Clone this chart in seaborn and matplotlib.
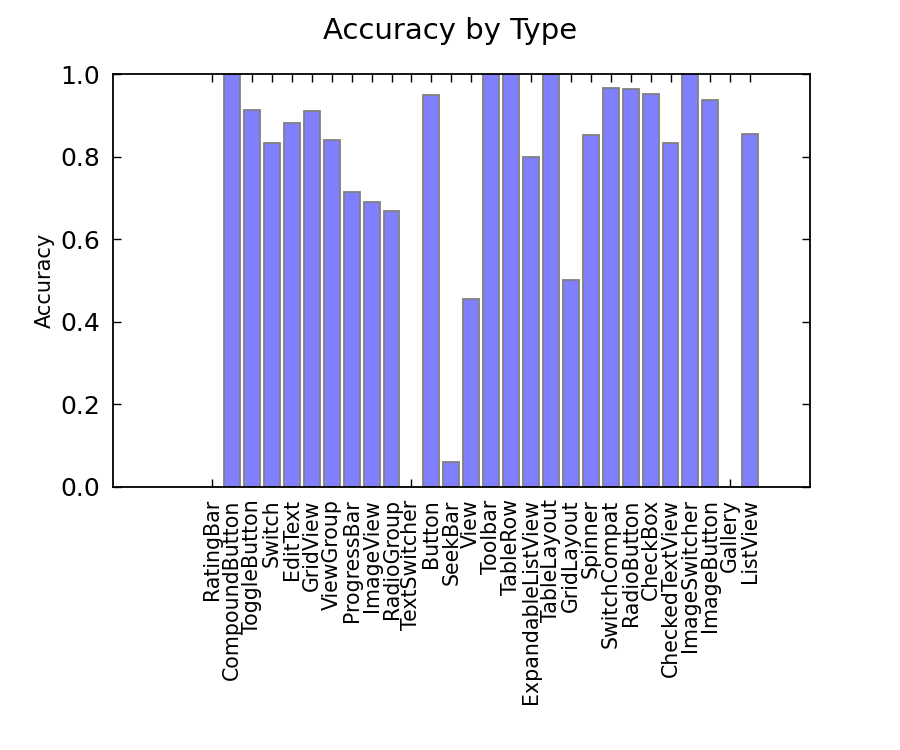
import matplotlib
matplotlib.use("Agg")
import matplotlib.pyplot as plt
import seaborn as sns
import pandas as pd

categories = ["RatingBar", "CompoundButton", "ToggleButton", "Switch", "EditText",
              "GridView", "ViewGroup", "ProgressBar", "ImageView", "RadioGroup",
              "TextSwitcher", "Button", "SeekBar", "View", "Toolbar", "TableRow",
              "ExpandableListView", "TableLayout", "GridLayout", "Spinner",
              "SwitchCompat", "RadioButton", "CheckBox", "CheckedTextView",
              "ImageSwitcher", "ImageButton", "Gallery", "ListView"]
accuracy = [0.0, 1.0, 0.913, 0.833, 0.881,
            0.910, 0.839, 0.714, 0.690, 0.667,
            0.0, 0.950, 0.06, 0.455, 1.0, 1.0,
            0.80, 1.0, 0.5, 0.852,
            0.966, 0.964, 0.952, 0.833,
            1.0, 0.937, 0.0, 0.855]

sns.set_style("white")
plt.rcParams['font.family'] = ['DejaVu Sans']
plt.rcParams['text.color'] = 'black'
plt.rcParams['axes.labelcolor'] = 'black'
plt.rcParams['xtick.color'] = 'black'
plt.rcParams['ytick.color'] = 'black'

df = pd.DataFrame({"Type": categories, "Accuracy": accuracy})

fig = plt.figure(figsize=(9, 7.5), dpi=100)
ax = fig.add_axes([0.125, 0.351, 0.775, 0.5503])
sns.barplot(data=df, x="Type", y="Accuracy", ax=ax, color="#8080ff",
            saturation=1, width=0.8, edgecolor="#808080", linewidth=1.3)
for p in ax.patches:
    p.set_facecolor("#8080ff")

ax.set_xlim(-5, 30)
ax.set_ylim(0, 1.0)
ax.set_yticks([0.0, 0.2, 0.4, 0.6, 0.8, 1.0])
ax.set_yticklabels(["0.0", "0.2", "0.4", "0.6", "0.8", "1.0"], fontsize=18)
ax.set_xticks(range(len(categories)))
ax.set_xticklabels(categories, rotation=90, fontsize=14.8)
ax.set_xlabel("")
ax.set_ylabel("Accuracy", fontsize=15)
ax.tick_params(direction="in", length=6, width=1, top=True, right=True,
               bottom=True, left=True, color="black")
ax.tick_params(axis="x", pad=9)
ax.tick_params(axis="y", pad=9)
for s in ax.spines.values():
    s.set_visible(True)
    s.set_color("black")
    s.set_linewidth(1.3)
fig.suptitle("Accuracy by Type", fontsize=21, y=0.977)

fig.savefig("out.png", dpi=100)
